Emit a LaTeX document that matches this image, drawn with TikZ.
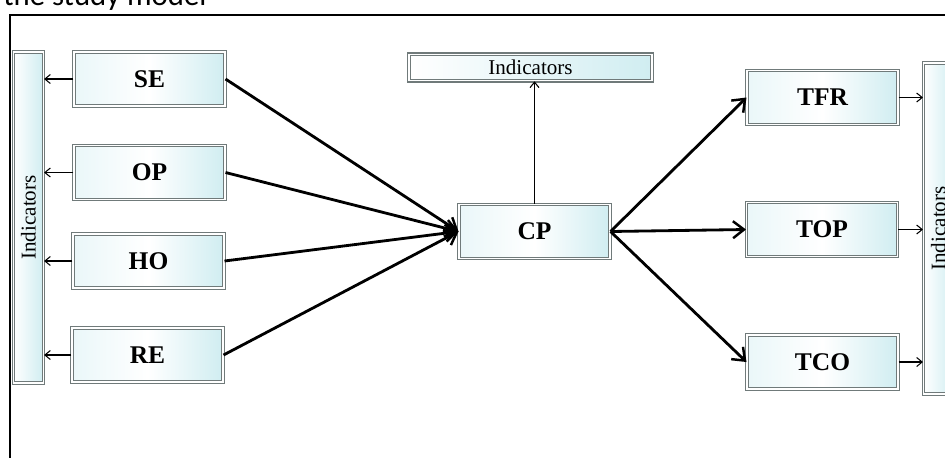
\documentclass[tikz,border=0pt]{standalone}
\usepackage{fontspec}
\setmainfont{Liberation Serif}
\newfontfamily\capfont{Carlito}
\usetikzlibrary{arrows.meta}
\definecolor{boxcyan}{RGB}{208,237,241}
\definecolor{boxedge}{RGB}{112,122,122}

\begin{document}
\begin{tikzpicture}[x=0.02cm, y=-0.02cm,
    cbox/.style={rectangle, draw=boxedge, double=white, double distance=0.8pt, line width=0.6pt,
                 left color=white!55!boxcyan, right color=boxcyan, middle color=white,
                 minimum width=3.02cm, minimum height=1.08cm, font=\fontsize{14.5}{16}\selectfont\bfseries},
    ibar/.style={rectangle, draw=boxedge, double=white, double distance=0.8pt, line width=0.6pt,
                 left color=white, right color=boxcyan, font=\fontsize{12}{14}\selectfont},
    thickarr/.style={-{Straight Barb[length=2.2mm, width=3.4mm, line width=1.4pt]}, line width=1.6pt},
    thinarr/.style={-{Straight Barb[length=1.1mm, width=1.8mm]}, line width=0.6pt}]
    \useasboundingbox (0,0) rectangle (945,457);
    % title line, cut by the page edge
    \node[anchor=base west, inner sep=0pt, font=\capfont\fontsize{17.5}{20}\selectfont] (title) at (3,5) {the study model};
    \draw[line width=1.7pt] (10,15) rectangle (970,480);
    % indicator bars
    \node[ibar, rotate=90, minimum width=6.62cm, minimum height=0.6cm] (indl) at (28.5,217.5) {Indicators};
    \node[ibar, rotate=90, minimum width=6.62cm, minimum height=0.6cm] (indr) at (938.5,228.5) {Indicators};
    \node[ibar, minimum width=4.86cm, minimum height=0.52cm] (indt) at (530.5,67.5) {Indicators};
    % constructs
    \node[cbox] (se) at (149.5,79) {SE};
    \node[cbox] (op) at (149.5,172.5) {OP};
    \node[cbox] (ho) at (148.5,261) {HO};
    \node[cbox] (re) at (147.5,355) {RE};
    \node[cbox] (cp) at (534.5,231.5) {CP};
    \node[cbox] (tfr) at (822.5,97.5) {TFR};
    \node[cbox] (tops) at (822,229.5) {TOP};
    \node[cbox] (tco) at (822.5,362) {TCO};
    % paths
    \foreach \n in {se,op,ho,re} \draw[thickarr] (\n.east) -- (cp.west);
    \foreach \n in {tfr,tops,tco} \draw[thickarr] (cp.east) -- (\n.west);
    \foreach \n in {se,op,ho,re} \draw[thinarr] (\n.west) -- (indl.south |- \n.west);
    \foreach \n in {tfr,tops,tco} \draw[thinarr] (\n.east) -- (indr.north |- \n.east);
    \draw[thinarr] (cp.north) -- (cp.north |- indt.south);
\end{tikzpicture}
\end{document}
